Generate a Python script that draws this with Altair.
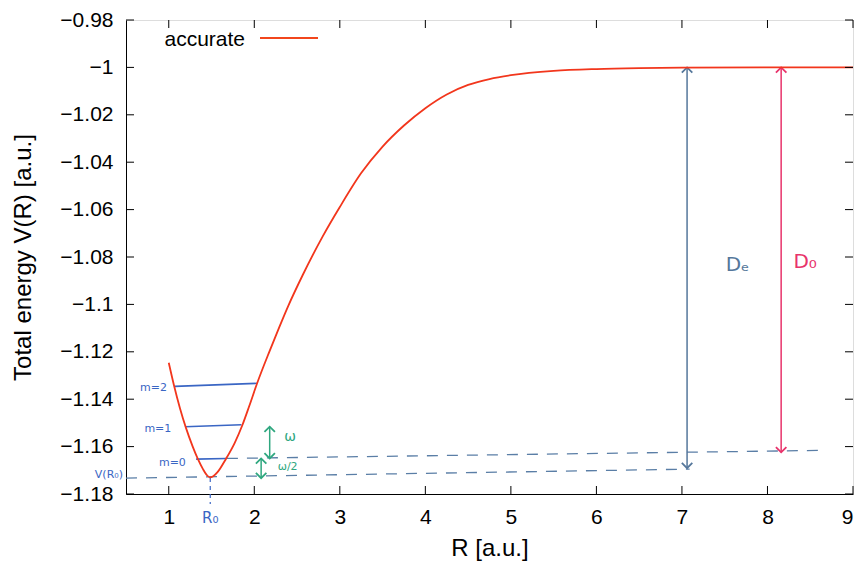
import altair as alt
import pandas as pd

# ---- data ----
curve_R = [1.00, 1.06, 1.13, 1.20, 1.28, 1.34, 1.40, 1.44, 1.48, 1.52, 1.57, 1.67, 1.77, 1.86,
           1.94, 2.03, 2.18, 2.29, 2.40, 2.565, 2.80, 3.00, 3.25, 3.50, 3.75, 4.00, 4.25, 4.50,
           4.75, 5.00, 5.50, 6.00, 6.50, 7.00, 8.00, 9.00]
curve_V = [-1.1246, -1.1340, -1.1437, -1.1520, -1.1600, -1.1652, -1.1695, -1.1718, -1.1730,
           -1.1725, -1.1708, -1.1651, -1.1585, -1.1510, -1.1430, -1.1336, -1.1196, -1.1098,
           -1.1004, -1.0877, -1.0713, -1.0589, -1.0446, -1.0334, -1.0245, -1.0172, -1.0114,
           -1.0074, -1.0049, -1.0033, -1.0015, -1.0007, -1.0003, -1.0001, -1.0000, -1.0000]

x_ticks = [1, 2, 3, 4, 5, 6, 7, 8, 9]
y_ticks = [-1.18, -1.16, -1.14, -1.12, -1.10, -1.08, -1.06, -1.04, -1.02, -1.00, -0.98]

level_names = ["m=0", "m=1", "m=2"]
level_R1 = [1.32, 1.19, 1.07]
level_R2 = [1.67, 1.85, 2.03]
level_V1 = [-1.1653, -1.1516, -1.1346]
level_V2 = [-1.1650, -1.1508, -1.1333]
level_lab_R = [1.20, 1.03, 0.98]
level_lab_V = [-1.1670, -1.1524, -1.1352]

dash_R1 = [1.68, 0.50]
dash_R2 = [8.64, 7.09]
dash_V1 = [-1.1650, -1.1733]
dash_V2 = [-1.1616, -1.1695]

R0_value = 1.485
VR0_value = -1.1733

arrow_R = [7.06, 8.16, 2.18, 2.08]
arrow_Vtop = [-1.0000, -1.0000, -1.1516, -1.1650]
arrow_Vbot = [-1.1691, -1.1624, -1.1650, -1.1733]
arrow_col = ["#55779b", "#e8336b", "#2fa77f", "#2fa77f"]

note_text = ["Dₑ", "D₀", "ω", "ω/2"]
note_R = [7.65, 8.44, 2.42, 2.39]
note_V = [-1.0834, -1.0820, -1.1561, -1.1687]
note_col = ["#55779b", "#e8336b", "#2fa77f", "#2fa77f"]
note_size = [20, 20, 14, 11]

W, H = 727, 474
xs = alt.Scale(domain=[0.5, 9], nice=False, zero=False)
ys = alt.Scale(domain=[-1.18, -0.98], nice=False, zero=False)
FONT = "Liberation Sans"
HAND = "DejaVu Sans"

curve_df = pd.DataFrame({"R": curve_R, "V": curve_V})

curve = alt.Chart(curve_df).mark_line(color="#f2361c", strokeWidth=1.8, interpolate="monotone").encode(
    x=alt.X("R:Q", scale=xs, axis=alt.Axis(values=x_ticks, format="d", title="R [a.u.]", ticks=False,
                                           grid=False, domainColor="black", labelFont=FONT,
                                           labelFontSize=21, labelColor="black", labelPadding=12,
                                           titleFont=FONT, titleFontSize=24, titleFontWeight="normal",
                                           titleColor="black", titlePadding=9)),
    y=alt.Y("V:Q", scale=ys, axis=alt.Axis(values=y_ticks, format=".2~f", title="Total energy V(R) [a.u.]",
                                           ticks=False, grid=False, domainColor="black", labelFont=FONT,
                                           labelFontSize=21, labelColor="black", labelPadding=13,
                                           titleFont=FONT, titleFontSize=24, titleFontWeight="normal",
                                           titleColor="black", titlePadding=24)),
)

# inward tick marks on all four sides
xt = pd.DataFrame({"R": x_ticks})
yt = pd.DataFrame({"V": y_ticks})
tick_style = dict(color="black", strokeWidth=1)
ticks_bottom = alt.Chart(xt).mark_rule(**tick_style).encode(
    x=alt.X("R:Q", scale=xs), y=alt.value(H), y2=alt.value(H - 8))
ticks_top = alt.Chart(xt).mark_rule(**tick_style).encode(
    x=alt.X("R:Q", scale=xs), y=alt.value(0), y2=alt.value(8))
ticks_left = alt.Chart(yt).mark_rule(**tick_style).encode(
    y=alt.Y("V:Q", scale=ys), x=alt.value(0), x2=alt.value(8))
ticks_right = alt.Chart(yt).mark_rule(**tick_style).encode(
    y=alt.Y("V:Q", scale=ys), x=alt.value(W), x2=alt.value(W - 8))

# legend
legend_text = alt.Chart(pd.DataFrame({"t": ["accurate"]})).mark_text(
    align="right", baseline="middle", font=FONT, fontSize=21, color="black").encode(
    text="t:N", x=alt.value(119), y=alt.value(20))
legend_line = alt.Chart(pd.DataFrame({"t": ["accurate"]})).mark_rule(color="#f2461c", strokeWidth=1.8).encode(
    x=alt.value(134), x2=alt.value(192), y=alt.value(18))

# hand-drawn annotations
lev_df = pd.DataFrame({"name": level_names, "R1": level_R1, "R2": level_R2, "V1": level_V1, "V2": level_V2,
                       "lR": level_lab_R, "lV": level_lab_V})
levels = alt.Chart(lev_df).mark_rule(color="#3a66c4", strokeWidth=1.6).encode(
    x=alt.X("R1:Q", scale=xs), x2="R2:Q", y=alt.Y("V1:Q", scale=ys), y2="V2:Q")
level_labels = alt.Chart(lev_df).mark_text(align="right", baseline="middle", font=HAND, fontSize=11,
                                           color="#3a66c4").encode(
    x=alt.X("lR:Q", scale=xs), y=alt.Y("lV:Q", scale=ys), text="name:N")

dash_df = pd.DataFrame({"R1": dash_R1, "R2": dash_R2, "V1": dash_V1, "V2": dash_V2})
dashes = alt.Chart(dash_df).mark_rule(color="#5a7ea6", strokeWidth=1.3, strokeDash=[11, 9]).encode(
    x=alt.X("R1:Q", scale=xs), x2="R2:Q", y=alt.Y("V1:Q", scale=ys), y2="V2:Q")

r0_df = pd.DataFrame({"R": [R0_value], "V": [VR0_value]})
r0_line = alt.Chart(r0_df).mark_rule(color="#3a66c4", strokeWidth=1.2, strokeDash=[4, 4]).encode(
    x=alt.X("R:Q", scale=xs), y=alt.Y("V:Q", scale=ys), y2=alt.value(H + 10))
r0_label = alt.Chart(pd.DataFrame({"R": [R0_value], "t": ["R₀"]})).mark_text(
    baseline="middle", font=HAND, fontSize=15, color="#3a66c4").encode(
    x=alt.X("R:Q", scale=xs), y=alt.value(H + 24), text="t:N")
vr0_label = alt.Chart(pd.DataFrame({"V": [VR0_value], "t": ["V(R₀)"]})).mark_text(
    align="right", baseline="middle", font=HAND, fontSize=11, color="#3a66c4", dy=-3).encode(
    x=alt.value(-3), y=alt.Y("V:Q", scale=ys), text="t:N")

arr_df = pd.DataFrame({"R": arrow_R, "Vt": arrow_Vtop, "Vb": arrow_Vbot, "c": arrow_col})
arrow_shafts = alt.Chart(arr_df).mark_rule(strokeWidth=1.5).encode(
    x=alt.X("R:Q", scale=xs), y=alt.Y("Vt:Q", scale=ys), y2="Vb:Q", color=alt.Color("c:N", scale=None))
arrow_up = alt.Chart(arr_df).mark_point(shape="M-1,1L0,0L1,1", size=110, filled=False, strokeWidth=1.8,
                                        opacity=1).encode(
    x=alt.X("R:Q", scale=xs), y=alt.Y("Vt:Q", scale=ys), color=alt.Color("c:N", scale=None))
arrow_down = alt.Chart(arr_df).mark_point(shape="M-1,-1L0,0L1,-1", size=110, filled=False, strokeWidth=1.8,
                                          opacity=1).encode(
    x=alt.X("R:Q", scale=xs), y=alt.Y("Vb:Q", scale=ys), color=alt.Color("c:N", scale=None))

note_df = pd.DataFrame({"t": note_text, "R": note_R, "V": note_V, "c": note_col, "s": note_size})
notes = alt.Chart(note_df).mark_text(baseline="middle", font=HAND).encode(
    x=alt.X("R:Q", scale=xs), y=alt.Y("V:Q", scale=ys), text="t:N",
    color=alt.Color("c:N", scale=None), size=alt.Size("s:Q", scale=None))

chart = alt.layer(
    dashes, r0_line, levels, arrow_shafts, arrow_up, arrow_down, curve,
    ticks_bottom, ticks_top, ticks_left, ticks_right,
    legend_text, legend_line, level_labels, r0_label, vr0_label, notes,
).properties(
    width=W, height=H,
    autosize=alt.AutoSizeParams(type="none"),
    padding={"left": 118, "top": 12, "right": 1, "bottom": 70},
).configure_view(stroke="black", strokeWidth=1.2).configure(background="white")

chart.save("out.html", embed_options={"renderer": "svg", "actions": False})
